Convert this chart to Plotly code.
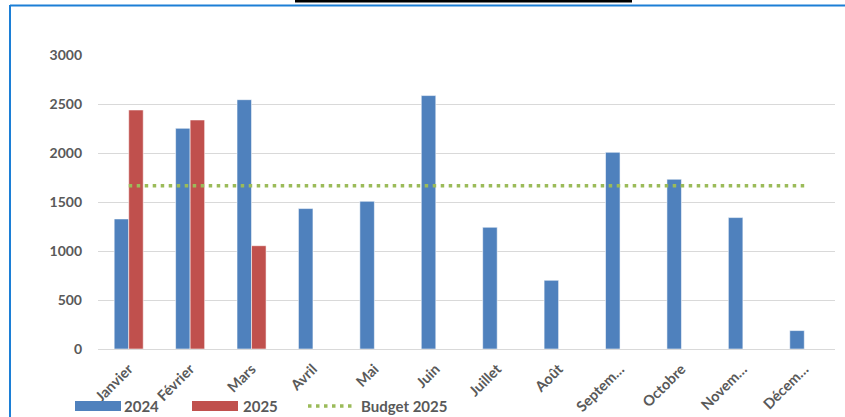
import plotly.graph_objects as go

months = ["Janvier", "Février", "Mars", "Avril", "Mai", "Juin", "Juillet", "Août",
          "Septem…", "Octobre", "Novem…", "Décem…"]
v2024 = [1327, 2252, 2544, 1433, 1507, 2586, 1242, 701, 2007, 1732, 1341, 188]
v2025 = [2439, 2337, 1054, None, None, None, None, None, None, None, None, None]
budget = [1667] * 12
y_ticks = [0, 500, 1000, 1500, 2000, 2500, 3000]

BLUE = "#4F81BD"
RED = "#C0504D"
GREEN = "#9BBB59"
TXT = "#595959"
FONT = "Lato"

W, H = 845, 417
L, R, T, B = 98, 835, 55, 349


def px(x):
    return (x - L) / (R - L)


def py(y):
    return (B - y) / (B - T)


fig = go.Figure()
fig.add_trace(go.Bar(x=months, y=v2024, name="2024", marker=dict(color=BLUE, line=dict(color="rgba(255,255,255,0.55)", width=1)), showlegend=False))
fig.add_trace(go.Bar(x=months, y=v2025, name="2025", marker=dict(color=RED, line=dict(color="rgba(255,255,255,0.55)", width=1)), showlegend=False))
fig.add_trace(go.Scatter(x=months, y=budget, name="Budget 2025", mode="lines",
                         line=dict(color=GREEN, width=3.5, dash="3.5px,4.5px"), showlegend=False))

shapes = []
# frame
shapes.append(dict(type="line", xref="paper", yref="paper", x0=px(10), x1=px(846), y0=py(5.5), y1=py(5.5),
                   line=dict(color="#1C7FD6", width=2)))
shapes.append(dict(type="line", xref="paper", yref="paper", x0=px(10), x1=px(10), y0=py(5), y1=py(418),
                   line=dict(color="#1C7FD6", width=2)))
# black bar at top
shapes.append(dict(type="rect", xref="paper", yref="paper", x0=px(295), x1=px(632), y0=py(0), y1=py(2.5),
                   fillcolor="black", line=dict(width=0)))
# custom legend
shapes.append(dict(type="rect", xref="paper", yref="paper", x0=px(75), x1=px(121), y0=py(401), y1=py(411),
                   fillcolor=BLUE, line=dict(width=0)))
shapes.append(dict(type="rect", xref="paper", yref="paper", x0=px(192), x1=px(238), y0=py(401), y1=py(411),
                   fillcolor=RED, line=dict(width=0)))
shapes.append(dict(type="line", xref="paper", yref="paper", x0=px(308), x1=px(354), y0=py(406), y1=py(406),
                   line=dict(color=GREEN, width=3.5, dash="3.5px,4.5px")))

annotations = []
for label, x0 in [("2024", 122), ("2025", 241), ("Budget 2025", 359)]:
    annotations.append(dict(text=label, xref="paper", yref="paper", x=px(x0), y=py(406),
                            xanchor="left", yanchor="middle", showarrow=False,
                            font=dict(family=FONT, size=15, color=TXT, weight="bold")))

fig.update_layout(
    width=W, height=H,
    margin=dict(l=L, r=W - R, t=T, b=H - B, pad=0, autoexpand=False),
    paper_bgcolor="white", plot_bgcolor="white",
    barmode="group", bargap=0.527, bargroupgap=0,
    font=dict(family=FONT, color=TXT, size=14),
    shapes=shapes, annotations=annotations,
    showlegend=False,
)
fig.update_xaxes(type="category", tickangle=-45, showgrid=False, showline=True, linecolor="#D9D9D9",
                 linewidth=1, ticks="", tickfont=dict(family=FONT, size=14.5, color=TXT, weight="bold"),
                 ticklabelstandoff=5, automargin=False)
fig.update_yaxes(range=[0, 3000], tickvals=y_ticks, showgrid=True, gridcolor="#D9D9D9", gridwidth=1,
                 zeroline=False, showline=False, ticks="", automargin=False,
                 tickfont=dict(family=FONT, size=14, color=TXT, weight="bold"), ticklabelstandoff=15)

fig.write_html("out.html", config={"displayModeBar": False},
               post_script="document.body.style.margin='0';document.body.style.padding='0';")
